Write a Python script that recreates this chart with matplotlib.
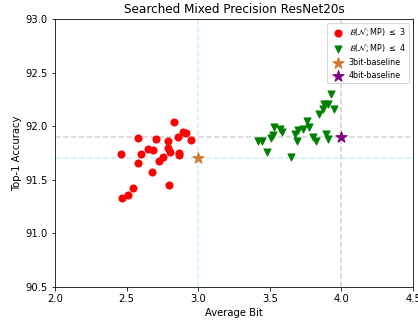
import matplotlib
matplotlib.use("Agg")
import matplotlib.pyplot as plt

# B(N;MP) <= 3 (red)
bits3 = [2.829, 2.578, 2.707, 2.787, 2.857, 2.896, 2.917, 2.948, 2.647, 2.686,
         2.787, 2.805, 2.868, 2.868, 2.459, 2.598, 2.756, 2.728, 2.578, 2.677,
         2.798, 2.547, 2.508, 2.468]
acc3 = [92.04, 91.89, 91.88, 91.86, 91.90, 91.95, 91.94, 91.87, 91.79, 91.78,
        91.80, 91.76, 91.75, 91.73, 91.74, 91.74, 91.71, 91.68, 91.66, 91.57,
        91.45, 91.42, 91.36, 91.33]

# B(N;MP) <= 4 (green)
bits4 = [3.927, 3.881, 3.904, 3.874, 3.948, 3.846, 3.758, 3.527, 3.571, 3.587,
         3.734, 3.776, 3.699, 3.678, 3.524, 3.510, 3.800, 3.890, 3.909, 3.820,
         3.688, 3.418, 3.448, 3.478, 3.648]
acc4 = [92.30, 92.21, 92.21, 92.16, 92.16, 92.11, 92.05, 91.99, 91.97, 91.95,
        91.97, 91.99, 91.96, 91.93, 91.92, 91.89, 91.90, 91.93, 91.88, 91.86,
        91.86, 91.86, 91.86, 91.76, 91.71]

base3 = (3.0, 91.70)
base4 = (4.0, 91.90)

xticks = [2.0, 2.5, 3.0, 3.5, 4.0, 4.5]
yticks = [90.5, 91.0, 91.5, 92.0, 92.5, 93.0]

DPI = 72
fig = plt.figure(figsize=(418 / DPI, 321 / DPI), dpi=DPI)
ax = fig.add_axes([55 / 418, 1 - 287 / 321, (413 - 55) / 418, (287 - 19) / 321])

ax.axhline(base4[1], color="#d3d3d3", ls="--", lw=1.5, zorder=1)
ax.axhline(base3[1], color="#c6eefb", ls="--", lw=1.5, zorder=1)
ax.axvline(base3[0], color="#c6eefb", ls="--", lw=1.5, zorder=1)
ax.axvline(base4[0], color="#d3d3d3", ls="--", lw=1.5, zorder=1)

ax.scatter(bits3, acc3, color="red", marker="o", s=50, zorder=3,
           label=r"$\mathcal{B}(\mathcal{N};\mathrm{MP})\ \leq\ 3$")
ax.scatter(bits4, acc4, color="green", marker="v", s=50, zorder=3,
           label=r"$\mathcal{B}(\mathcal{N};\mathrm{MP})\ \leq\ 4$")
ax.scatter([base3[0]], [base3[1]], color="#d2782e", marker="*", s=140, zorder=4,
           label="3bit-baseline")
ax.scatter([base4[0]], [base4[1]], color="purple", marker="*", s=140, zorder=4,
           label="4bit-baseline")

ax.set_xlim(2.0, 4.5)
ax.set_ylim(90.5, 93.0)
ax.set_xticks(xticks)
ax.set_yticks(yticks)
ax.set_xticklabels([f"{v:.1f}" for v in xticks])
ax.set_yticklabels([f"{v:.1f}" for v in yticks])
ax.set_xlabel("Average Bit")
ax.set_ylabel("Top-1 Accuracy")
ax.set_title("Searched Mixed Precision ResNet20s")
ax.legend(loc="upper right", fontsize=8, handletextpad=0.3, borderpad=0.4)

fig.savefig("out.png", dpi=DPI)
